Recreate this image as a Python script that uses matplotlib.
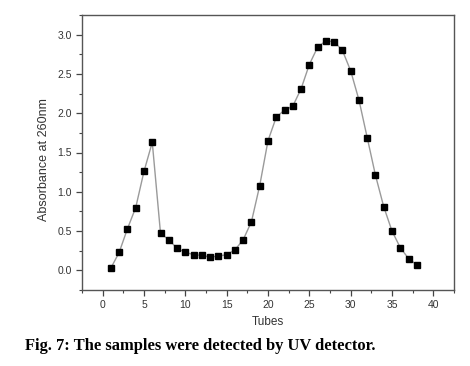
import matplotlib
matplotlib.use("Agg")
import matplotlib.pyplot as plt
from matplotlib.ticker import MultipleLocator

tubes = list(range(1, 39))
absorbance = [0.03, 0.23, 0.53, 0.80, 1.26, 1.63, 0.47, 0.39, 0.28, 0.23,
              0.20, 0.19, 0.17, 0.18, 0.20, 0.26, 0.39, 0.62, 1.08, 1.65,
              1.95, 2.04, 2.09, 2.31, 2.62, 2.84, 2.92, 2.91, 2.80, 2.54,
              2.17, 1.69, 1.21, 0.81, 0.50, 0.29, 0.15, 0.07]
x_ticks = [0, 5, 10, 15, 20, 25, 30, 35, 40]
y_ticks = [0.0, 0.5, 1.0, 1.5, 2.0, 2.5, 3.0]
x_label = "Tubes"
y_label = "Absorbance at 260nm"
caption = "Fig. 7: The samples were detected by UV detector."

plt.rcParams['font.family'] = ['Liberation Sans', 'DejaVu Sans']

fig = plt.figure(figsize=(4.7, 3.66), dpi=100)
ax = fig.add_axes([82/470, 1 - 290/366, (454-82)/470, (290-15)/366])

ax.plot(tubes, absorbance, color='#9a9a9a', lw=1.0, zorder=1)
ax.plot(tubes, absorbance, ls='none', marker='s', ms=4.6, color='black', zorder=2)

ax.set_xlim(-2.5, 42.5)
ax.set_ylim(-0.25, 3.25)
ax.set_xticks(x_ticks)
ax.set_yticks(y_ticks)
ax.set_yticklabels([f"{v:.1f}" for v in y_ticks])
ax.xaxis.set_minor_locator(MultipleLocator(2.5))
ax.yaxis.set_minor_locator(MultipleLocator(0.25))
ax.tick_params(which='major', direction='out', length=4, width=0.9, colors='#444444',
               labelsize=7.5, labelcolor='#333333', top=False, right=False)
ax.tick_params(which='minor', direction='out', length=2.5, width=0.8, colors='#444444',
               top=False, right=False)
for s in ax.spines.values():
    s.set_color('#555555')
    s.set_linewidth(1.0)

ax.set_xlabel(x_label, fontsize=8.5, color='#333333', labelpad=4)
ax.set_ylabel(y_label, fontsize=9, color='#333333')
ax.yaxis.set_label_coords(-0.086, 0.473)

fig.text(25/470, 1 - 346/366, caption, fontsize=11.9, fontweight='bold',
         family=['Liberation Serif', 'DejaVu Serif'], color='black', va='center', ha='left')

fig.savefig("out.png", dpi=100)
